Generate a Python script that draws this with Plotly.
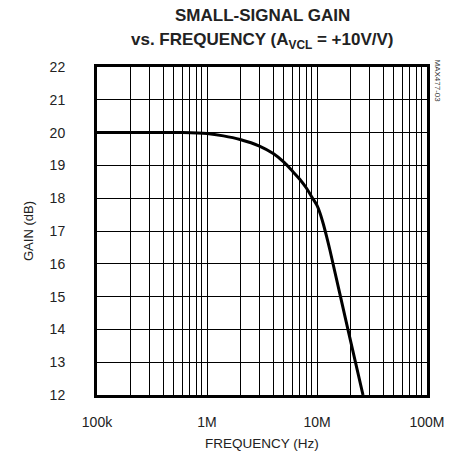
import plotly.graph_objects as go

freq_hz = [1e5, 3e5, 6e5, 1.0e6, 1.41e6, 2.0e6, 3.0e6, 4.0e6, 5.0e6, 6.0e6, 7.0e6, 8.0e6,
           9.0e6, 10.0e6, 10.64e6, 11.4e6, 12.25e6, 13.1e6, 19.1e6, 26.2e6]
gain_db = [20.0, 20.0, 20.0, 19.97, 19.90, 19.79, 19.59, 19.36, 19.10, 18.82, 18.57, 18.31,
           18.03, 17.78, 17.55, 17.22, 16.82, 16.42, 14.0, 12.0]

x_tick_vals = [1e5, 1e6, 1e7, 1e8]
x_tick_text = ["100k", "1M", "10M", "100M"]
y_tick_vals = list(range(12, 23))

font_family = "Liberation Sans, Arial, Helvetica, sans-serif"

fig = go.Figure()
fig.add_trace(go.Scatter(x=freq_hz, y=gain_db, mode="lines",
                         line=dict(color="black", width=3, shape="spline", smoothing=0.8),
                         showlegend=False))

fig.update_layout(
    width=449, height=455,
    margin=dict(l=97, r=22, t=67, b=60, autoexpand=False),
    paper_bgcolor="white", plot_bgcolor="white",
    font=dict(family=font_family, color="#222", size=14),
)
fig.add_annotation(text="<b>SMALL-SIGNAL GAIN</b>", x=0.5, xref="paper", y=1.1585, yref="paper",
                   xanchor="center", yanchor="middle", showarrow=False,
                   font=dict(size=17, family=font_family, color="#222"))
fig.add_annotation(text="<b>vs. FREQUENCY (A<sub>VCL</sub> = +10V/V)</b>", x=0.5, xref="paper",
                   y=1.079, yref="paper", xanchor="center", yanchor="middle", showarrow=False,
                   font=dict(size=17, family=font_family, color="#222"))

fig.update_xaxes(type="log", range=[5, 8], tickvals=x_tick_vals, ticktext=x_tick_text,
                 showgrid=True, gridcolor="black", gridwidth=1,
                 minor=dict(tickvals=[m * 10**d for d in range(5, 8) for m in range(2, 10)],
                            showgrid=True, gridcolor="black", gridwidth=1),
                 showline=True, linecolor="black", linewidth=3, mirror=True,
                 ticks="", ticklabelstandoff=12, tickfont=dict(size=14), automargin=False,
                 title=dict(text="FREQUENCY (Hz)", font=dict(size=13.5), standoff=10),
                 zeroline=False)
fig.update_yaxes(range=[12, 22], tickvals=y_tick_vals,
                 showgrid=True, gridcolor="black", gridwidth=1,
                 showline=True, linecolor="black", linewidth=3, mirror=True,
                 ticks="", ticklabelstandoff=26, tickfont=dict(size=14), automargin=False,
                 title=dict(text="GAIN (dB)", font=dict(size=13), standoff=14),
                 zeroline=False)

fig.add_annotation(text="MAX477-03", x=1.0, xref="paper", xshift=10, y=1.0, yref="paper",
                   yshift=10, yanchor="top", xanchor="center", textangle=90, showarrow=False,
                   font=dict(size=8, color="#333", family=font_family))

fig.write_html("out.html", config={"displayModeBar": False},
               post_script="document.body.style.margin='0';document.body.style.overflow='hidden';")
